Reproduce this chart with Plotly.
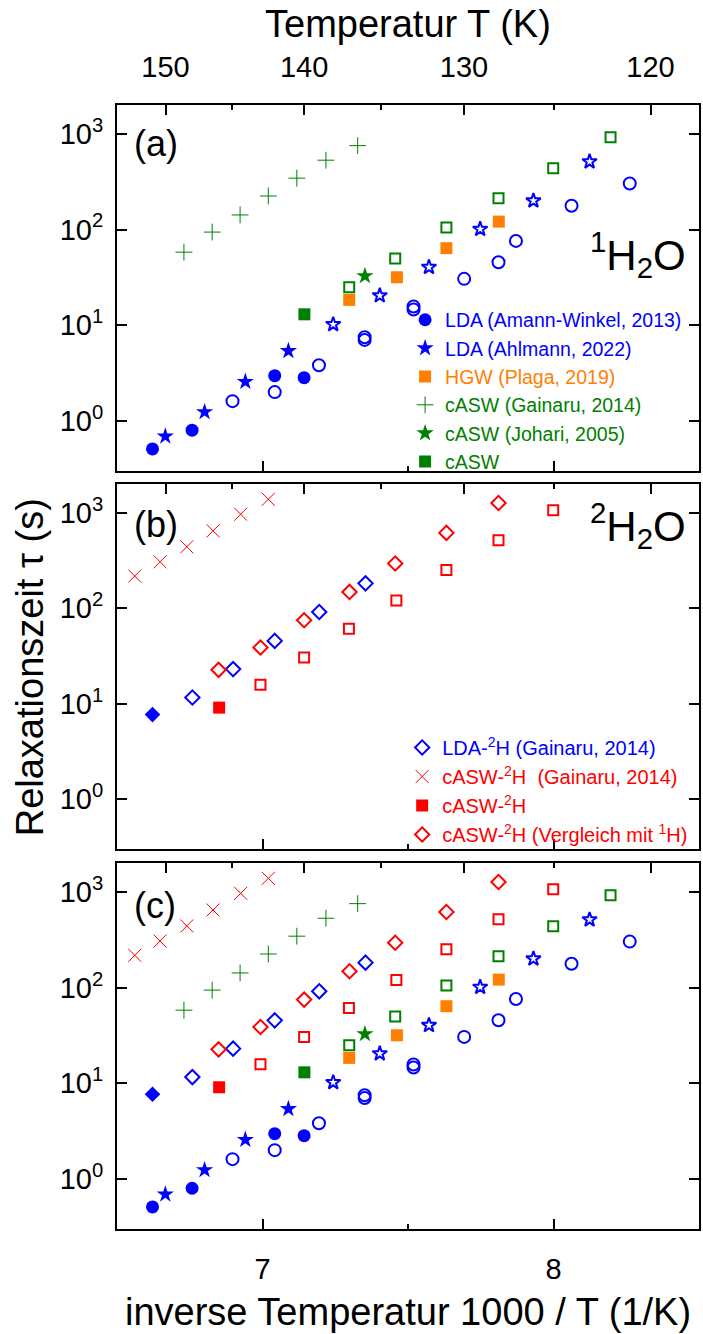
import plotly.graph_objects as go

# ---------------- data (1000/T in 1/K, tau in s) ----------------
# 1H2O (panel a, repeated in c)
lda_aw_x = [6.622, 6.758, 7.042, 7.143]
lda_aw_tau = [0.51, 0.80, 2.97, 2.83]
lda_ahl_x = [6.666, 6.801, 6.941, 7.089]
lda_ahl_tau = [0.69, 1.24, 2.57, 5.39]
lda_open_x = [6.897, 7.042, 7.194, 7.351, 7.351, 7.519, 7.519, 7.693, 7.811, 7.871, 8.062, 8.262]
lda_open_tau = [1.61, 2.00, 3.82, 7.49, 7.02, 15.7, 14.6, 30.5, 45.5, 76, 177, 302]
lda_ostar_x = [7.243, 7.403, 7.572, 7.748, 7.931, 8.124]
lda_ostar_tau = [10.2, 20.4, 40.4, 101, 200, 512]
hgw_x = [7.298, 7.462, 7.632, 7.812]
hgw_tau = [18.4, 31.7, 63.8, 121]
casw_gai_x = [6.730, 6.827, 6.923, 7.020, 7.118, 7.218, 7.327]
casw_gai_tau = [58, 94, 142, 224, 344, 530, 753]
casw_joh_x = [7.352]
casw_joh_tau = [32.7]
casw_x = [7.144]
casw_tau = [13.0]
casw_open_x = [7.298, 7.456, 7.632, 7.811, 7.999, 8.196]
casw_open_tau = [24.9, 49.7, 105, 212, 437, 921]

# 2H2O (panel b, repeated in c)
lda2_x = [6.759, 6.899, 7.042, 7.195, 7.354]
lda2_tau = [11.6, 23.0, 45.4, 91.3, 182]
lda2_fill_x = [6.622]
lda2_fill_tau = [7.67]
casw2_gai_x = [6.561, 6.648, 6.740, 6.830, 6.925, 7.020]
casw2_gai_tau = [217, 306, 440, 646, 965, 1384]
casw2_x = [6.851]
casw2_tau = [9.08]
casw2_cmp_x = [6.849, 6.993, 7.143, 7.299, 7.456, 7.632, 7.811]
casw2_cmp_tau = [22.6, 38.7, 74.8, 148, 294, 615, 1266]
casw2_open_x = [6.993, 7.143, 7.297, 7.460, 7.632, 7.811, 7.999]
casw2_open_tau = [15.8, 30.4, 61, 120, 251, 516, 1062]

# axes ticks
T_major = [150, 140, 130, 120]
T_minor = [145, 135, 125]
y_tickvals = [1, 10, 100, 1000]
y_ticktext = ["10<sup>0</sup>", "10<sup>1</sup>", "10<sup>2</sup>", "10<sup>3</sup>"]

BLUE = "#0000FF"
ORANGE = "#FF8000"
GREEN = "#008000"
RED = "#FF0000"
FONT = "Liberation Sans, Arial, sans-serif"


def col(name, c):
    return '<span style="color:%s">%s</span>' % (c, name)


# series definitions: (x, y, symbol, size, color, linewidth, name)
set1 = [
    (lda_open_x, lda_open_tau, "circle-open", 12, BLUE, 2, None),
    (lda_ostar_x, lda_ostar_tau, "star-open", 11, BLUE, 2, None),
    (casw_open_x, casw_open_tau, "square-open", 10, GREEN, 2, None),
    (lda_aw_x, lda_aw_tau, "circle", 13, BLUE, 0, "LDA (Amann-Winkel, 2013)"),
    (lda_ahl_x, lda_ahl_tau, "star", 13, BLUE, 0, "LDA (Ahlmann, 2022)"),
    (hgw_x, hgw_tau, "square", 12, ORANGE, 0, "HGW (Plaga, 2019)"),
    (casw_gai_x, casw_gai_tau, "cross-thin", 12, GREEN, 1, "cASW (Gainaru, 2014)"),
    (casw_joh_x, casw_joh_tau, "star", 13, GREEN, 0, "cASW (Johari, 2005)"),
    (casw_x, casw_tau, "square", 12, GREEN, 0, "cASW"),
]
set2 = [
    (casw2_open_x, casw2_open_tau, "square-open", 10, RED, 2, None),
    (lda2_fill_x, lda2_fill_tau, "diamond", 12, BLUE, 0, None),
    (lda2_x, lda2_tau, "diamond-open", 11, BLUE, 2, "LDA-<sup>2</sup>H (Gainaru, 2014)"),
    (casw2_gai_x, casw2_gai_tau, "x-thin", 13, RED, 1, "cASW-<sup>2</sup>H  (Gainaru, 2014)"),
    (casw2_x, casw2_tau, "square", 12, RED, 0, "cASW-<sup>2</sup>H"),
    (casw2_cmp_x, casw2_cmp_tau, "diamond-open", 11, RED, 2, "cASW-<sup>2</sup>H (Vergleich mit <sup>1</sup>H)"),
]

fig = go.Figure()


def add(series, xa, ya, legend, show):
    for (x, y, sym, size, c, lw, name) in series:
        fig.add_trace(go.Scatter(
            x=x, y=y, mode="markers", xaxis=xa, yaxis=ya,
            marker=dict(symbol=sym, size=size, color=c,
                        line=dict(width=lw, color=c)),
            name=col(name, c) if name else "",
            showlegend=bool(show and name),
            legend=legend,
        ))


add(set1, "x", "y", "legend", True)
add(set2, "x2", "y2", "legend2", True)
add(set1, "x3", "y3", "legend", False)
add(set2, "x3", "y3", "legend2", False)

# empty traces to register top (temperature) axes
for xa, ya in [("x4", "y"), ("x5", "y2"), ("x6", "y3")]:
    fig.add_trace(go.Scatter(x=[], y=[], xaxis=xa, yaxis=ya, showlegend=False))

XR = [6.5, 8.5]
YR = [-0.523, 3.301]
tickfont = dict(family=FONT, size=29, color="black")

bottom_common = dict(range=XR, showline=True, linecolor="black", linewidth=2,
                     ticks="inside", ticklen=10, tickwidth=2, tickcolor="black",
                     tickmode="array", tickvals=[7, 8], ticktext=["7", "8"],
                     minor=dict(tickmode="array", tickvals=[7.5], ticks="inside",
                                ticklen=5, tickwidth=2, tickcolor="black"),
                     showgrid=False, zeroline=False, tickfont=tickfont,
                     ticklabelstandoff=13)
top_common = dict(range=XR, showline=True, linecolor="black", linewidth=2, side="top",
                  ticks="inside", ticklen=10, tickwidth=2, tickcolor="black",
                  tickmode="array", tickvals=[1000.0 / t for t in T_major],
                  ticktext=[str(t) for t in T_major],
                  minor=dict(tickmode="array", tickvals=[1000.0 / t for t in T_minor],
                             ticks="inside", ticklen=5, tickwidth=2, tickcolor="black"),
                  showgrid=False, zeroline=False, tickfont=tickfont,
                  ticklabelstandoff=14)
y_common = dict(type="log", range=YR, showline=True, linecolor="black", linewidth=2,
                mirror="ticks", ticks="inside", ticklen=10, tickwidth=2, tickcolor="black",
                tickmode="array", tickvals=y_tickvals, ticktext=y_ticktext,
                showgrid=False, zeroline=False, tickfont=tickfont, ticklabelstandoff=6)

fig.update_layout(
    width=703, height=1334,
    margin=dict(l=117, r=2, t=105, b=105),
    paper_bgcolor="white", plot_bgcolor="white",
    font=dict(family=FONT, color="black"),
    xaxis=dict(anchor="y", showticklabels=False, **bottom_common),
    xaxis2=dict(anchor="y2", showticklabels=False, **bottom_common),
    xaxis3=dict(anchor="y3", showticklabels=True, **bottom_common),
    xaxis4=dict(anchor="y", overlaying="x", showticklabels=True, **top_common),
    xaxis5=dict(anchor="y2", overlaying="x2", showticklabels=False, **top_common),
    xaxis6=dict(anchor="y3", overlaying="x3", showticklabels=False, **top_common),
    yaxis=dict(domain=[0.6744, 1.0], anchor="x", **y_common),
    yaxis2=dict(domain=[0.3381, 0.6628], anchor="x2", **y_common),
    yaxis3=dict(domain=[0.0, 0.3256], anchor="x3", **y_common),
    legend=dict(x=0.495, y=0.826, xanchor="left", yanchor="top",
                bgcolor="rgba(0,0,0,0)", font=dict(family=FONT, size=19.5),
                itemsizing="trace", tracegroupgap=0),
    legend2=dict(x=0.49, y=0.4457, xanchor="left", yanchor="top",
                 bgcolor="rgba(0,0,0,0)", font=dict(family=FONT, size=20),
                 itemsizing="trace", tracegroupgap=0),
    showlegend=True,
)

annos = [
    dict(text="Temperatur T (K)", xref="paper", yref="paper", x=0.5, y=1.0725,
         xanchor="center", yanchor="middle", font=dict(size=38)),
    dict(text="inverse Temperatur 1000 / T (1/K)", xref="paper", yref="paper",
         x=0.5, y=-0.0738, xanchor="center", yanchor="middle", font=dict(size=38)),
    dict(text="Relaxationszeit \u03c4 (s)", xref="paper", yref="paper",
         x=-0.149, y=0.5, xanchor="center", yanchor="middle", textangle=-90,
         font=dict(size=38)),
    dict(text="(a)", xref="x domain", yref="y domain", x=0.026, y=0.896,
         xanchor="left", yanchor="middle", font=dict(size=36)),
    dict(text="(b)", xref="x2 domain", yref="y2 domain", x=0.026, y=0.888,
         xanchor="left", yanchor="middle", font=dict(size=36)),
    dict(text="(c)", xref="x3 domain", yref="y3 domain", x=0.026, y=0.885,
         xanchor="left", yanchor="middle", font=dict(size=36)),
    dict(text="<sup>1</sup>H<sub>2</sub>O", xref="x domain", yref="y domain",
         x=0.981, y=0.592, xanchor="right", yanchor="middle", font=dict(size=42)),
    dict(text="<sup>2</sup>H<sub>2</sub>O", xref="x2 domain", yref="y2 domain",
         x=0.981, y=0.885, xanchor="right", yanchor="middle", font=dict(size=42)),
]
for a in annos:
    a.setdefault("showarrow", False)
    a["font"] = dict(family=FONT, color="black", **a["font"])
    fig.add_annotation(**a)

fig.write_html("out.html")
